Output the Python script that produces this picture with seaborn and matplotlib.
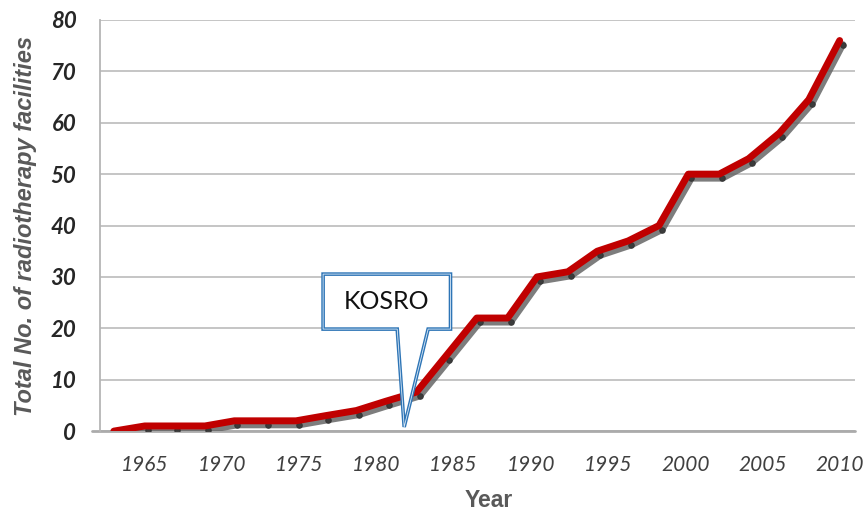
# Radiotherapy facilities over time - line chart with KOSRO callout

import numpy as np
import pandas as pd
import matplotlib
matplotlib.use('Agg')  # no display
import matplotlib.pyplot as plt
import matplotlib.transforms as mtransforms
from matplotlib.patches import Polygon
import seaborn as sns

# Data
years = [1963.0, 1965.0, 1966.9, 1968.9, 1970.8, 1972.8, 1974.8, 1976.7,
         1978.7, 1980.6, 1982.6, 1984.5, 1986.5, 1988.5, 1990.4, 1992.4,
         1994.3, 1996.3, 1998.3, 2000.2, 2002.2, 2004.1, 2006.1, 2008.0, 2010.0]
facilities = [0, 1, 1, 1, 2, 2, 2, 3,
              4, 5.8, 7.6, 14.6, 22, 22, 30, 31,
              35, 37, 40, 50, 50, 53, 58, 64.5, 76]
x_ticks = [1965, 1970, 1975, 1980, 1985, 1990, 1995, 2000, 2005, 2010]
y_ticks = [0, 10, 20, 30, 40, 50, 60, 70, 80]

callout_text = 'KOSRO'
callout_tip = (1981.8, 0.8)

sns.set_style('white')
plt.rcParams['font.family'] = ['Lato', 'DejaVu Sans']

df = pd.DataFrame({'Year': years, 'Facilities': facilities})

fig = plt.figure(figsize=(8.64, 5.12), dpi=100)
ax = fig.add_axes([0.1157, 0.158, 0.874, 0.803])

# shadow line (offset copy) with small dark markers
shadow = mtransforms.offset_copy(ax.transData, fig=fig, x=3, y=-4, units='dots')
sns.lineplot(data=df, x='Year', y='Facilities', ax=ax, color='#666666',
             lw=5, alpha=0.85, transform=shadow, marker='o', markersize=4,
             markerfacecolor='#303030', markeredgecolor='#303030', zorder=3)
# main red line
sns.lineplot(data=df, x='Year', y='Facilities', ax=ax, color='#C00000',
             lw=5, solid_capstyle='round', zorder=4)

ax.set_xlim(1962.1, 2011.0)
ax.set_ylim(0, 80)
ax.set_xticks(x_ticks)
ax.set_yticks(y_ticks)

ax.yaxis.grid(True, color='#C0C0C0', lw=1.3)
ax.xaxis.grid(False)
ax.set_axisbelow(True)

for side in ['top', 'right', 'bottom']:
    ax.spines[side].set_visible(False)
ax.spines['left'].set_color('#B5B5B5')
ax.spines['left'].set_linewidth(1.3)

# bottom axis line, running a little past the left spine
ax.plot([-0.011, 1.0], [0, 0], transform=ax.transAxes, color='#ABABAB',
        lw=2, clip_on=False, zorder=2)

ax.tick_params(axis='y', direction='out', length=6, width=1.3,
               color='#B5B5B5', pad=11, labelsize=16, labelcolor='#262626')
ax.tick_params(axis='x', direction='out', length=4.5, width=1.5,
               color='#3CCB9A', pad=13, labelsize=15, labelcolor='#404040')
for lab in ax.get_yticklabels():
    lab.set_fontweight('bold')
    lab.set_fontstyle('italic')
for lab in ax.get_xticklabels():
    lab.set_fontstyle('italic')

ax.set_ylabel('Total No. of radiotherapy facilities', fontsize=17,
              fontweight='bold', fontstyle='italic', color='#595959',
              family=['Liberation Sans', 'DejaVu Sans'])
ax.yaxis.set_label_coords(-0.084, 0.5)
ax.set_xlabel('Year', fontsize=16.5, fontweight='bold', color='#595959',
              family=['Liberation Sans', 'DejaVu Sans'])
ax.xaxis.set_label_coords(0.515, -0.141)

# callout box with pointer
tx, ty = callout_tip
box_left, box_right = tx - 5.25, tx + 3.0
box_bottom, box_top = 19.85, 30.55
shape = [(box_left, box_top), (box_right, box_top), (box_right, box_bottom),
         (tx + 1.55, box_bottom), (tx, ty), (tx - 0.45, box_bottom),
         (box_left, box_bottom)]
ax.add_patch(Polygon(shape, closed=True, facecolor='white',
                     edgecolor='#2E75B6', lw=2.6, zorder=5, joinstyle='miter'))
ax.add_patch(Polygon(shape, closed=True, facecolor='none',
                     edgecolor='#DCEAF7', lw=0.6, zorder=6, joinstyle='miter'))
ax.text((box_left + box_right) / 2, (box_top + box_bottom) / 2, callout_text,
        ha='center', va='center', fontsize=18, color='#111111', zorder=7)

fig.savefig('out.png', dpi=100)
plt.close(fig)
